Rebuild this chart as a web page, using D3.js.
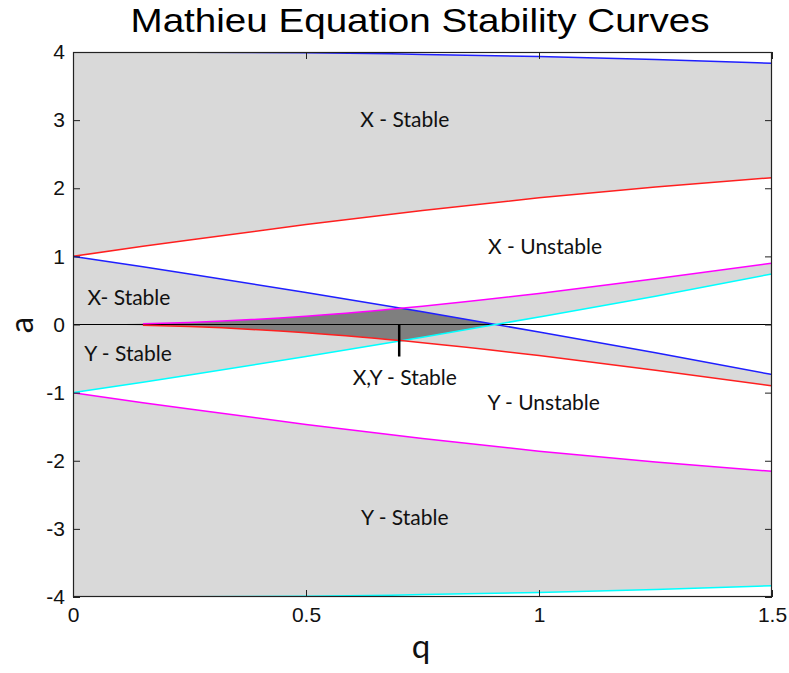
<!DOCTYPE html>
<html>
<head>
<meta charset="utf-8">
<script src="https://cdn.jsdelivr.net/npm/d3@7"></script>
<style>
  body { margin: 0; background: #fff; }
</style>
</head>
<body>
<div id="chart"></div>
<script>
// q grid shared by all stability curves
var qGrid = [0, 0.15, 0.25, 0.5, 0.75, 1.0, 1.25, 1.5];

// X equation curves
var b2X = [4.00, 4.00, 3.998, 3.99, 3.965, 3.935, 3.89, 3.835];      // blue, top
var a1X = [1.00, 1.147, 1.242, 1.467, 1.673, 1.859, 2.02, 2.155];    // red, upper
var b1X = [1.00, 0.847, 0.742, 0.471, 0.186, -0.110, -0.416, -0.735]; // blue
var a0X = [0, -0.011, -0.031, -0.122, -0.268, -0.455, -0.67, -0.90];  // red, near zero

// Y equation curves
var b2Y = [-4.00, -4.00, -3.998, -3.99, -3.965, -3.935, -3.89, -3.835]; // cyan, bottom
var a1Y = [-1.00, -1.147, -1.242, -1.467, -1.673, -1.859, -2.02, -2.155]; // magenta, lower
var b1Y = [-1.00, -0.847, -0.742, -0.471, -0.186, 0.110, 0.416, 0.743];  // cyan
var a0Y = [0, 0.011, 0.031, 0.122, 0.268, 0.455, 0.67, 0.90];           // magenta, near zero

var xTicks = [0, 0.5, 1, 1.5];
var yTicks = [-4, -3, -2, -1, 0, 1, 2, 3, 4];

// pointer to the X,Y stable region
var pointerQ = 0.7;
var pointerA = [0, -0.47];

var labelText = ['X - Stable', 'X - Unstable', 'X- Stable', 'Y - Stable', 'X,Y - Stable', 'Y - Unstable', 'Y - Stable'];
var labelQ = [0.712, 1.013, 0.12, 0.118, 0.712, 1.01, 0.712];
var labelA = [3.01, 1.14, 0.40, -0.43, -0.78, -1.14, -2.83];

var margin = {top: 52, right: 17, bottom: 76, left: 73},
    width = 789 - margin.left - margin.right,
    height = 673 - margin.top - margin.bottom;

var svg = d3.select('#chart')
    .append('svg')
        .attr('width', 789)
        .attr('height', 673);

var g = svg.append('g')
    .attr('transform', 'translate(' + margin.left + ',' + margin.top + ')');

var x = d3.scaleLinear().domain([0, 1.5]).range([0, width]);
var y = d3.scaleLinear().domain([-4, 4]).range([height, 0]);

var defs = svg.append('defs');
defs.append('clipPath').attr('id', 'plotClip')
    .append('rect').attr('width', width).attr('height', height);

var curve = d3.curveMonotoneX;

// area between two curves on the q grid
function band(lo, hi) {
    return d3.area()
        .curve(curve)
        .x(function(d, i) { return x(qGrid[i]); })
        .y0(function(d, i) { return y(lo[i]); })
        .y1(function(d, i) { return y(hi[i]); })(qGrid);
}

function line(vals, start) {
    var idx = d3.range(start || 0, qGrid.length);
    return d3.line()
        .curve(curve)
        .x(function(i) { return x(qGrid[i]); })
        .y(function(i) { return y(vals[i]); })(idx);
}

var plot = g.append('g').attr('clip-path', 'url(#plotClip)');

plot.append('rect')
    .attr('width', width).attr('height', height)
    .attr('fill', '#ffffff');

// stable regions, light gray
var lightGray = '#d9d9d9';
[[a1X, b2X], [a0X, b1X], [b1Y, a0Y], [b2Y, a1Y]].forEach(function(p) {
    plot.append('path')
        .attr('d', band(p[0], p[1]))
        .attr('fill', lightGray);
});

// both stable: X band clipped by Y band
defs.append('clipPath').attr('id', 'yBand')
    .append('path').attr('d', band(b1Y, a0Y));
plot.append('g').attr('clip-path', 'url(#yBand)')
    .append('path')
    .attr('d', band(a0X, b1X))
    .attr('fill', '#7f7f7f');

// a = 0 line
plot.append('line')
    .attr('x1', 0).attr('x2', width)
    .attr('y1', y(0)).attr('y2', y(0))
    .attr('stroke', '#000').attr('stroke-width', 1);

var curves = [
    {v: b2X, c: '#1f1fff', s: 0},
    {v: a1X, c: '#ff1f1f', s: 0},
    {v: b1X, c: '#1f1fff', s: 0},
    {v: b2Y, c: '#00ffff', s: 0},
    {v: a1Y, c: '#ff00ff', s: 0},
    {v: b1Y, c: '#00ffff', s: 0},
    {v: a0Y, c: '#ff00ff', s: 1},
    {v: a0X, c: '#ff1f1f', s: 1}
];
curves.forEach(function(cv) {
    plot.append('path')
        .attr('d', line(cv.v, cv.s))
        .attr('fill', 'none')
        .attr('stroke', cv.c)
        .attr('stroke-width', 1.5);
});

// pointer
g.append('line')
    .attr('x1', x(pointerQ)).attr('x2', x(pointerQ))
    .attr('y1', y(pointerA[0])).attr('y2', y(pointerA[1]))
    .attr('stroke', '#000').attr('stroke-width', 2.5);

// region labels
g.selectAll('.region')
    .data(labelText)
    .enter().append('text')
    .attr('class', 'region')
    .attr('x', function(d, i) { return x(labelQ[i]); })
    .attr('y', function(d, i) { return y(labelA[i]); })
    .attr('dy', '0.36em')
    .attr('text-anchor', 'middle')
    .style('font-family', 'Lato, "Open Sans", sans-serif')
    .style('font-size', '21px')
    .attr('fill', '#111')
    .text(function(d) { return d; });

// axes, ticks pointing inward
var tickFont = '"Liberation Sans", Arial, sans-serif';
var fmt = function(d) { return String(d); };

g.append('g')
    .attr('transform', 'translate(0,' + height + ')')
    .call(d3.axisBottom(x).tickValues(xTicks).tickFormat(fmt).tickSize(-7).tickPadding(10));
g.append('g')
    .call(d3.axisTop(x).tickValues(xTicks).tickFormat('').tickSize(-7));
g.append('g')
    .call(d3.axisLeft(y).tickValues(yTicks).tickFormat(fmt).tickSize(-7).tickPadding(8));
g.append('g')
    .attr('transform', 'translate(' + width + ',0)')
    .call(d3.axisRight(y).tickValues(yTicks).tickFormat('').tickSize(-7));

g.selectAll('.domain').remove();
g.selectAll('.tick line').attr('stroke', '#222');
g.selectAll('.tick text')
    .style('font-family', tickFont)
    .style('font-size', '21px')
    .attr('fill', '#111');

// frame
g.append('rect')
    .attr('x', 0.5).attr('y', 0.5)
    .attr('width', width - 1).attr('height', height - 1)
    .attr('fill', 'none')
    .attr('stroke', '#222')
    .attr('stroke-width', 1.2);

// title
svg.append('text')
    .attr('x', 420)
    .attr('y', 32)
    .attr('text-anchor', 'middle')
    .attr('textLength', 579)
    .attr('lengthAdjust', 'spacingAndGlyphs')
    .style('font-family', tickFont)
    .style('font-size', '33px')
    .attr('fill', '#000')
    .text('Mathieu Equation Stability Curves');

// axis labels
svg.append('text')
    .attr('x', 421)
    .attr('y', 658)
    .attr('text-anchor', 'middle')
    .style('font-family', 'Lato, sans-serif')
    .style('font-size', '33px')
    .attr('fill', '#111')
    .text('q');

svg.append('text')
    .attr('transform', 'translate(33,325) rotate(-90)')
    .attr('text-anchor', 'middle')
    .style('font-family', 'Lato, sans-serif')
    .style('font-size', '33px')
    .attr('fill', '#111')
    .text('a');
</script>
</body>
</html>
